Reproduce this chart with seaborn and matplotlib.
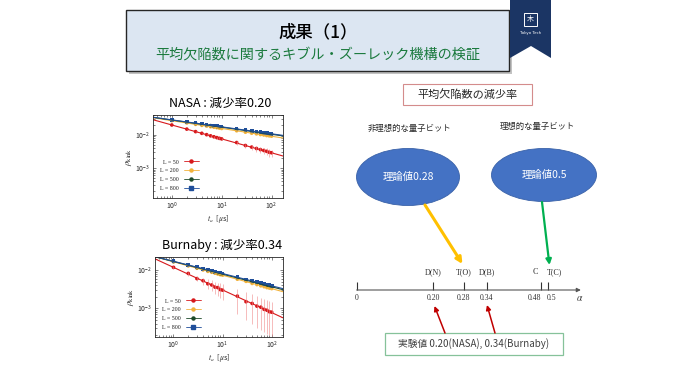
import numpy as np
import pandas as pd
import matplotlib
matplotlib.use("Agg")
import matplotlib.pyplot as plt
import seaborn as sns
from matplotlib.patches import Rectangle, Ellipse, Polygon
from matplotlib.lines import Line2D

# ---------------------------------------------------------------------------
# Data
# ---------------------------------------------------------------------------

t_us = [1, 2, 3, 4, 5, 6, 7, 8, 9, 10, 20, 30, 40, 50, 60, 70, 80, 90, 100]
sizes_L = [50, 200, 500, 800]

# NASA panel
nasa_L50 = [0.0200, 0.0150, 0.0126, 0.0112, 0.0102, 0.0094, 0.0088, 0.0083, 0.0079, 0.0076,
            0.0059, 0.0048, 0.0043, 0.0039, 0.0036, 0.0034, 0.0032, 0.0030, 0.0029]
nasa_L200 = [0.0270, 0.0230, 0.0209, 0.0195, 0.0185, 0.0177, 0.0171, 0.0166, 0.0161, 0.0157,
             0.0134, 0.0121, 0.0113, 0.0108, 0.0103, 0.0100, 0.0096, 0.0094, 0.0092]
nasa_L500 = [0.0282, 0.0243, 0.0223, 0.0209, 0.0199, 0.0191, 0.0185, 0.0180, 0.0176, 0.0172,
             0.0148, 0.0136, 0.0128, 0.0122, 0.0117, 0.0113, 0.0110, 0.0107, 0.0105]
nasa_L800 = [0.0285, 0.0247, 0.0227, 0.0213, 0.0203, 0.0195, 0.0189, 0.0184, 0.0179, 0.0176,
             0.0152, 0.0140, 0.0131, 0.0125, 0.0121, 0.0117, 0.0114, 0.0111, 0.0108]
nasa_L50_lo = [0.0195, 0.0145, 0.0121, 0.0107, 0.0097, 0.0089, 0.0083, 0.0078, 0.0074, 0.0070,
               0.0050, 0.0041, 0.0035, 0.0031, 0.0028, 0.0026, 0.0024, 0.0022, 0.0021]
nasa_L50_hi = [0.0205, 0.0155, 0.0131, 0.0117, 0.0107, 0.0099, 0.0093, 0.0088, 0.0084, 0.0082,
               0.0066, 0.0055, 0.0049, 0.0046, 0.0043, 0.0041, 0.0039, 0.0037, 0.0036]
nasa_fit_amp = [0.0200, 0.0270, 0.0282, 0.0285]
nasa_fit_exp = [0.42, 0.235, 0.215, 0.21]

# Burnaby panel
burn_L50 = [0.0118, 0.0082, 0.0060, 0.0053, 0.0044, 0.0041, 0.0036, 0.0035, 0.0031, 0.0030,
            0.0021, 0.0015, 0.00135, 0.00115, 0.00108, 0.00095, 0.00090, 0.00082, 0.00080]
burn_L200 = [0.0165, 0.0129, 0.0112, 0.0101, 0.0093, 0.0088, 0.0083, 0.0079, 0.0076, 0.0074,
             0.0058, 0.0051, 0.0045, 0.0042, 0.0039, 0.0037, 0.0035, 0.0034, 0.0033]
burn_L500 = [0.0168, 0.0134, 0.0117, 0.0106, 0.0099, 0.0093, 0.0088, 0.0085, 0.0081, 0.0079,
             0.0063, 0.0055, 0.0050, 0.0047, 0.0044, 0.0042, 0.0040, 0.0039, 0.0037]
burn_L800 = [0.0170, 0.0136, 0.0119, 0.0109, 0.0101, 0.0095, 0.0091, 0.0087, 0.0084, 0.0081,
             0.0065, 0.0057, 0.0052, 0.0049, 0.0046, 0.0044, 0.0042, 0.0041, 0.0039]
burn_L50_lo = [0.0108, 0.0070, 0.0052, 0.0042, 0.0032, 0.0028, 0.0024, 0.0021, 0.0019, 0.0017,
               0.0007, 0.0005, 0.0004, 0.0003, 0.00028, 0.00025, 0.00022, 0.00020, 0.00019]
burn_L50_hi = [0.0128, 0.0090, 0.0071, 0.0063, 0.0058, 0.0054, 0.0050, 0.0047, 0.0045, 0.0043,
               0.0032, 0.0027, 0.0024, 0.0021, 0.0019, 0.0018, 0.0017, 0.0016, 0.0015]
burn_fit_amp = [0.0118, 0.0165, 0.0168, 0.0170]
burn_fit_exp = [0.59, 0.35, 0.33, 0.32]

# number line
alpha_vals = [0, 0.20, 0.28, 0.34, 0.48, 0.5]
alpha_ticklabels = ["0", "0.20", "0.28", "0.34", "0.48", "0.5"]
alpha_marks = ["", "D(N)", "T(O)", "D(B)", "C", "T(C)"]

series_colors = ["#d7191c", "#f2b33d", "#1d4a2a", "#1f4e9a"]
series_markers = ["o", "o", "o", "s"]

# ---------------------------------------------------------------------------
# Style
# ---------------------------------------------------------------------------

sns.set_style("ticks")
plt.rcParams["font.family"] = ["Noto Sans CJK JP", "DejaVu Sans"]
plt.rcParams["mathtext.fontset"] = "stix"
SERIF = ["Liberation Serif", "DejaVu Serif"]

fig = plt.figure(figsize=(7, 3.67), dpi=100)

# background axes in pixel units for slide decorations
bg = fig.add_axes([0, 0, 1, 1])
bg.set_xlim(0, 700)
bg.set_ylim(367, 0)
bg.axis("off")

# title box with shadow
bg.add_patch(Rectangle((129, 13), 383, 61, facecolor="#9a9a9a", edgecolor="none", alpha=0.6))
bg.add_patch(Rectangle((126, 10), 383, 61, facecolor="#dce6f2", edgecolor="#262626", lw=1.0))
bg.text(318, 32, "成果（1）", ha="center", va="center", fontsize=12.5, color="black",
        fontweight="medium")
bg.text(318, 54, "平均欠陥数に関するキブル・ズーレック機構の検証", ha="center", va="center",
        fontsize=10.2, color="#1b7a3e")

# Tokyo Tech ribbon
bg.add_patch(Polygon([(510, 0), (551, 0), (551, 58), (531, 46), (510, 58)],
                     closed=True, facecolor="#1b3564", edgecolor="none"))
bg.add_patch(Rectangle((524, 13), 13, 13, facecolor="none", edgecolor="white", lw=0.7))
bg.text(530.5, 19.5, "木", ha="center", va="center", fontsize=5, color="white")
bg.text(530.5, 33, "Tokyo Tech", ha="center", va="center", fontsize=2.8, color="white",
        family=["DejaVu Sans"])

# panel titles
bg.text(220, 103, "NASA : 減少率0.20", ha="center", va="center", fontsize=9, color="black")
bg.text(222, 245, "Burnaby : 減少率0.34", ha="center", va="center", fontsize=9, color="black")


def draw_panel(rect, values, lows, highs, amps, exps, ylim):
    ax = fig.add_axes(rect)
    pts = pd.DataFrame({
        "t": np.tile(t_us, len(sizes_L)),
        "rho": np.concatenate(values),
        "L": np.repeat(sizes_L, len(t_us)),
    })
    t_fit = np.geomspace(0.42, 170, 60)
    fit = pd.DataFrame({
        "t": np.tile(t_fit, len(sizes_L)),
        "rho": np.concatenate([a * t_fit ** (-e) for a, e in zip(amps, exps)]),
        "L": np.repeat(sizes_L, len(t_fit)),
    })
    pal = dict(zip(sizes_L, series_colors))
    sns.lineplot(data=fit, x="t", y="rho", hue="L", palette=pal, lw=0.8,
                 legend=False, ax=ax)
    vals = np.array(values[0])
    ax.errorbar(t_us, vals, yerr=[vals - np.array(lows), np.array(highs) - vals],
                fmt="none", ecolor="#f08a8a", elinewidth=0.4, capsize=0)
    sns.scatterplot(data=pts, x="t", y="rho", hue="L", style="L", palette=pal,
                    markers=dict(zip(sizes_L, series_markers)), s=7, linewidth=0,
                    legend=False, ax=ax)
    ax.set_xscale("log")
    ax.set_yscale("log")
    ax.set_xlim(0.42, 170)
    ax.set_ylim(*ylim)
    ax.tick_params(which="both", direction="in", top=True, right=True, labelsize=5,
                   width=0.4, pad=2)
    ax.tick_params(which="major", length=2.5)
    ax.tick_params(which="minor", length=1.2)
    for s in ax.spines.values():
        s.set_linewidth(0.6)
    ax.set_xlabel(r"$t_a$  [$\mu$s]", fontsize=5.5, labelpad=1)
    ax.set_ylabel(r"$\rho_{\mathrm{kink}}$", fontsize=6.5, labelpad=1)
    handles = [Line2D([], [], color=c, marker=m, markersize=2.2, lw=0.6)
               for c, m in zip(series_colors, series_markers)]
    ax.legend(handles, [f"L = {L}" for L in sizes_L], loc="lower left", frameon=False,
              markerfirst=False, handlelength=2.6, labelspacing=0.6,
              borderaxespad=0.8, prop={"family": SERIF, "size": 4.3})
    return ax


draw_panel([153 / 700, (367 - 198) / 367, 130 / 700, 83 / 367],
           [nasa_L50, nasa_L200, nasa_L500, nasa_L800], nasa_L50_lo, nasa_L50_hi,
           nasa_fit_amp, nasa_fit_exp, (1.25e-4, 0.04))
draw_panel([155 / 700, (367 - 337) / 367, 128 / 700, 80 / 367],
           [burn_L50, burn_L200, burn_L500, burn_L800], burn_L50_lo, burn_L50_hi,
           burn_fit_amp, burn_fit_exp, (1.8e-4, 0.022))

# ---------------------------------------------------------------------------
# Right side: decay-rate comparison
# ---------------------------------------------------------------------------

bg.add_patch(Rectangle((403, 84), 129, 21, facecolor="white", edgecolor="#d48c8c", lw=0.8))
bg.text(467.5, 95, "平均欠陥数の減少率", ha="center", va="center", fontsize=8)
bg.text(410, 128, "非理想的な量子ビット", ha="center", va="center", fontsize=6)
bg.text(537, 126, "理想的な量子ビット", ha="center", va="center", fontsize=6)

bg.add_patch(Ellipse((408, 177), 103, 57, facecolor="#4472c4", edgecolor="#3a62a8", lw=0.6))
bg.add_patch(Ellipse((544, 175), 105, 53, facecolor="#4472c4", edgecolor="#3a62a8", lw=0.6))
bg.text(408, 177, "理論値0.28", ha="center", va="center", fontsize=7.5, color="white")
bg.text(544, 175, "理論値0.5", ha="center", va="center", fontsize=7.5, color="white")

# number line axes
nl = fig.add_axes([350 / 700, (367 - 310) / 367, 235 / 700, 48 / 367])
nl.set_xlim(-0.0175, 0.5958)
nl.set_ylim(-20, 28)
nl.axis("off")
nl.annotate("", xy=(0.585, 0), xytext=(0, 0),
            arrowprops=dict(arrowstyle="-|>", color="#555555", lw=0.8,
                            mutation_scale=6, shrinkA=0, shrinkB=0))
nl.vlines(alpha_vals, 0, 8, color="#333333", lw=0.8)
# small horizontal nudges (points) so that the close 0.48 / 0.5 labels stay apart
tick_dx = [0, 0, 0, 0, -4.5, 2]
mark_dx = [0, 0, 0, 0, -3.5, 4.5]
for a, lab, mk, dx1, dx2 in zip(alpha_vals, alpha_ticklabels, alpha_marks, tick_dx, mark_dx):
    nl.annotate(lab, (a, -8.5), xytext=(dx1, 0), textcoords="offset points",
                ha="center", va="center", fontsize=5.6, family=SERIF, color="#333333")
    if mk:
        nl.annotate(mk, (a, 18), xytext=(dx2, 0), textcoords="offset points",
                    ha="center", va="center", fontsize=5.8, family=SERIF, color="#333333")
nl.text(0.583, -8, r"$\alpha$", ha="center", va="center", fontsize=7, color="#333333")

# arrows from the theory bubbles
bg.annotate("", xy=(0.276, 26), xycoords=nl.transData, xytext=(425, 205),
            textcoords=bg.transData,
            arrowprops=dict(arrowstyle="-|>", color="#ffc000", lw=2.2, mutation_scale=9,
                            shrinkA=0, shrinkB=0))
bg.annotate("", xy=(0.503, 25), xycoords=nl.transData, xytext=(542, 202),
            textcoords=bg.transData,
            arrowprops=dict(arrowstyle="-|>", color="#00b050", lw=1.6, mutation_scale=8,
                            shrinkA=0, shrinkB=0))

# experiment box and arrows
bg.add_patch(Rectangle((385, 333), 178, 22, facecolor="white", edgecolor="#86c29a", lw=0.9))
bg.text(474, 344, "実験値 0.20(NASA), 0.34(Burnaby)", ha="center", va="center",
        fontsize=7, color="#404040")
bg.annotate("", xy=(0.203, -16), xycoords=nl.transData, xytext=(445, 333),
            textcoords=bg.transData,
            arrowprops=dict(arrowstyle="-|>", color="#c00000", lw=1.1, mutation_scale=7,
                            shrinkA=0, shrinkB=0))
bg.annotate("", xy=(0.34, -15), xycoords=nl.transData, xytext=(495, 333),
            textcoords=bg.transData,
            arrowprops=dict(arrowstyle="-|>", color="#c00000", lw=1.1, mutation_scale=7,
                            shrinkA=0, shrinkB=0))

fig.savefig("out.png", dpi=100)
